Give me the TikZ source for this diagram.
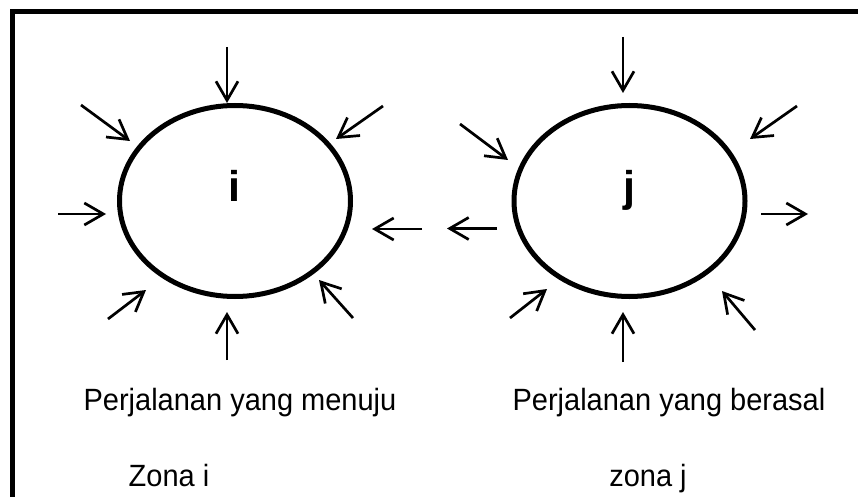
\documentclass[tikz,border=0pt]{standalone}
\usepackage{fontspec}
\setmainfont{Liberation Sans}
\usetikzlibrary{arrows.meta,shapes.geometric}
\newcommand{\tallcap}[1]{\scalebox{1}[1.06]{#1}}
\begin{document}
\begin{tikzpicture}[x=1pt,y=-1pt,
  zone/.style={draw,ellipse,line width=5pt,minimum width=231pt,minimum height=191pt,inner sep=0pt},
  flow/.style={line width=2.7pt,-{Straight Barb[length=19pt,width=22pt,line width=2.7pt]}},
  zlabel/.style={font=\fontsize{43}{43}\selectfont\bfseries,anchor=base,inner sep=0pt},
  caption/.style={font=\fontsize{29}{29}\selectfont,anchor=base,inner sep=0pt},
  frame/.style={line width=5pt}]
\useasboundingbox (0,0) rectangle (858,497);
% frame (left and top edges only)
\coordinate (fbl) at (12,500);
\coordinate (ftl) at (12,12);
\coordinate (ftr) at (860,12);
\draw[frame] (fbl) -- (ftl) -- (ftr);
% zones
\node[zone] (i) at (235,201) {};
\node[zone] (j) at (629.5,201) {};
\node[zlabel] (li) at (234,201.5) {i};
\node[zlabel] (lj) at (629,201.5) {j};
% arrows around i
\coordinate (i1s) at (227,47);   \coordinate (i1t) at (227,103);
\coordinate (i2s) at (81,105);   \coordinate (i2t) at (130,141);
\coordinate (i3s) at (383,106);  \coordinate (i3t) at (336,139);
\coordinate (i4s) at (58,214);   \coordinate (i4t) at (106,214);
\coordinate (i5s) at (108,319);  \coordinate (i5t) at (146,290);
\coordinate (i6s) at (227,360);  \coordinate (i6t) at (227,312);
\coordinate (i7s) at (353,318);  \coordinate (i7t) at (319,280);
\coordinate (i8s) at (422,229);  \coordinate (i8t) at (372,229);
\foreach \k in {1,...,8} \draw[flow] (i\k s) -- (i\k t);
% arrows around j
\coordinate (j1s) at (623,37);   \coordinate (j1t) at (623,93);
\coordinate (j2s) at (460,124);  \coordinate (j2t) at (508,160);
\coordinate (j3s) at (797,106);  \coordinate (j3t) at (750,139);
\coordinate (j4s) at (497,228.5);\coordinate (j4t) at (447,228.5);
\coordinate (j5s) at (761,214);  \coordinate (j5t) at (808,214);
\coordinate (j6s) at (510,318);  \coordinate (j6t) at (547,289);
\coordinate (j7s) at (623,362);  \coordinate (j7t) at (623,312);
\coordinate (j8s) at (755,330);  \coordinate (j8t) at (722,291);
\foreach \k in {1,...,8} \draw[flow] (j\k s) -- (j\k t);
% captions
\node[caption] (c1) at (240,410) {\tallcap{Perjalanan yang menuju}};
\node[caption] (c2) at (669,410) {\tallcap{Perjalanan yang berasal}};
\node[caption] (c3) at (169,486) {\tallcap{Zona i}};
\node[caption] (c4) at (648,486) {\tallcap{zona j}};
\end{tikzpicture}
\end{document}
